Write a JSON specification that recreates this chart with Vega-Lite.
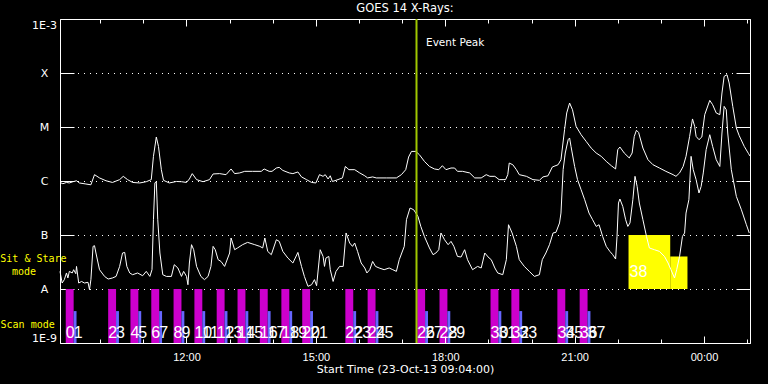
{
"$schema": "https://vega.github.io/schema/vega-lite/v6.json",
"width": 690,
"height": 324,
"autosize": {"type": "none"},
"padding": {"left": 60, "top": 19, "right": 18, "bottom": 41},
"background": "black",
"title": {"text": "GOES 14 X-Rays:", "color": "white", "font": "DejaVu Sans", "fontSize": 11.5, "fontWeight": "normal", "anchor": "middle", "frame": "group", "offset": 4},
"config": {"view": {"stroke": null}, "axis": {"domainColor": "white", "tickColor": "white", "labelColor": "white", "titleColor": "white", "gridColor": "white", "labelFontWeight": "normal", "titleFontWeight": "normal"}},
"datasets": {
"long": [
{"t":"2013-10-23T09:04","f":9.4e-7},{"t":"2013-10-23T09:08","f":8.9e-7},{"t":"2013-10-23T09:13","f":9.4e-7},{"t":"2013-10-23T09:17","f":9.2e-7},{"t":"2013-10-23T09:22","f":9.7e-7},{"t":"2013-10-23T09:27","f":1.01e-6},{"t":"2013-10-23T09:31","f":9.2e-7},{"t":"2013-10-23T09:40","f":8.8e-7},{"t":"2013-10-23T09:47","f":8.5e-7},{"t":"2013-10-23T09:52","f":1.31e-6},{"t":"2013-10-23T09:59","f":1.14e-6},{"t":"2013-10-23T10:08","f":1.01e-6},{"t":"2013-10-23T10:17","f":9.4e-7},{"t":"2013-10-23T10:27","f":1.06e-6},{"t":"2013-10-23T10:32","f":1.22e-6},{"t":"2013-10-23T10:38","f":1.06e-6},{"t":"2013-10-23T10:45","f":9.4e-7},{"t":"2013-10-23T10:55","f":9.2e-7},{"t":"2013-10-23T11:04","f":9.7e-7},{"t":"2013-10-23T11:11","f":1.06e-6},{"t":"2013-10-23T11:14","f":2.86e-6},{"t":"2013-10-23T11:18","f":6.53e-6},{"t":"2013-10-23T11:21","f":4.37e-6},{"t":"2013-10-23T11:25","f":1.62e-6},{"t":"2013-10-23T11:28","f":1.03e-6},{"t":"2013-10-23T11:36","f":9.2e-7},{"t":"2013-10-23T11:46","f":9.8e-7},{"t":"2013-10-23T11:53","f":9.7e-7},{"t":"2013-10-23T12:00","f":9.4e-7},{"t":"2013-10-23T12:04","f":1.09e-6},{"t":"2013-10-23T12:08","f":1.37e-6},{"t":"2013-10-23T12:14","f":1.06e-6},{"t":"2013-10-23T12:23","f":9.7e-7},{"t":"2013-10-23T12:32","f":1.06e-6},{"t":"2013-10-23T12:37","f":1.35e-6},{"t":"2013-10-23T12:46","f":1.37e-6},{"t":"2013-10-23T12:55","f":1.31e-6},{"t":"2013-10-23T13:02","f":1.67e-6},{"t":"2013-10-23T13:07","f":1.37e-6},{"t":"2013-10-23T13:14","f":1.41e-6},{"t":"2013-10-23T13:21","f":1.51e-6},{"t":"2013-10-23T13:32","f":1.51e-6},{"t":"2013-10-23T13:44","f":1.51e-6},{"t":"2013-10-23T13:48","f":1.67e-6},{"t":"2013-10-23T13:55","f":1.51e-6},{"t":"2013-10-23T13:59","f":1.51e-6},{"t":"2013-10-23T14:05","f":1.74e-6},{"t":"2013-10-23T14:09","f":1.79e-6},{"t":"2013-10-23T14:14","f":1.57e-6},{"t":"2013-10-23T14:23","f":1.41e-6},{"t":"2013-10-23T14:28","f":1.37e-6},{"t":"2013-10-23T14:35","f":1.47e-6},{"t":"2013-10-23T14:40","f":1.19e-6},{"t":"2013-10-23T14:47","f":1.06e-6},{"t":"2013-10-23T14:54","f":9.4e-7},{"t":"2013-10-23T15:00","f":9.2e-7},{"t":"2013-10-23T15:05","f":1.31e-6},{"t":"2013-10-23T15:10","f":1.22e-6},{"t":"2013-10-23T15:13","f":1.31e-6},{"t":"2013-10-23T15:17","f":1.09e-6},{"t":"2013-10-23T15:20","f":1.25e-6},{"t":"2013-10-23T15:23","f":9.8e-7},{"t":"2013-10-23T15:28","f":1.03e-6},{"t":"2013-10-23T15:37","f":1.14e-6},{"t":"2013-10-23T15:41","f":1.86e-6},{"t":"2013-10-23T15:46","f":1.62e-6},{"t":"2013-10-23T15:54","f":1.62e-6},{"t":"2013-10-23T16:01","f":1.41e-6},{"t":"2013-10-23T16:08","f":1.25e-6},{"t":"2013-10-23T16:12","f":1.14e-6},{"t":"2013-10-23T16:19","f":1.19e-6},{"t":"2013-10-23T16:24","f":1.14e-6},{"t":"2013-10-23T16:38","f":1.14e-6},{"t":"2013-10-23T16:52","f":1.14e-6},{"t":"2013-10-23T16:59","f":1.31e-6},{"t":"2013-10-23T17:05","f":1.62e-6},{"t":"2013-10-23T17:09","f":2.78e-6},{"t":"2013-10-23T17:13","f":3.53e-6},{"t":"2013-10-23T17:19","f":3.53e-6},{"t":"2013-10-23T17:24","f":3.07e-6},{"t":"2013-10-23T17:31","f":2.31e-6},{"t":"2013-10-23T17:38","f":1.86e-6},{"t":"2013-10-23T17:45","f":1.67e-6},{"t":"2013-10-23T17:51","f":1.62e-6},{"t":"2013-10-23T17:56","f":1.92e-6},{"t":"2013-10-23T18:01","f":1.62e-6},{"t":"2013-10-23T18:08","f":1.74e-6},{"t":"2013-10-23T18:13","f":1.74e-6},{"t":"2013-10-23T18:17","f":1.51e-6},{"t":"2013-10-23T18:24","f":1.51e-6},{"t":"2013-10-23T18:34","f":1.41e-6},{"t":"2013-10-23T18:41","f":1.14e-6},{"t":"2013-10-23T18:50","f":1.14e-6},{"t":"2013-10-23T18:57","f":1.31e-6},{"t":"2013-10-23T19:02","f":1.22e-6},{"t":"2013-10-23T19:09","f":1.22e-6},{"t":"2013-10-23T19:15","f":1.06e-6},{"t":"2013-10-23T19:24","f":1.06e-6},{"t":"2013-10-23T19:27","f":1.31e-6},{"t":"2013-10-23T19:29","f":2.15e-6},{"t":"2013-10-23T19:34","f":2.0e-6},{"t":"2013-10-23T19:39","f":1.62e-6},{"t":"2013-10-23T19:43","f":1.31e-6},{"t":"2013-10-23T19:53","f":1.22e-6},{"t":"2013-10-23T20:02","f":1.06e-6},{"t":"2013-10-23T20:11","f":1.03e-6},{"t":"2013-10-23T20:16","f":1.19e-6},{"t":"2013-10-23T20:23","f":1.25e-6},{"t":"2013-10-23T20:29","f":1.82e-6},{"t":"2013-10-23T20:37","f":2.0e-6},{"t":"2013-10-23T20:41","f":2.48e-6},{"t":"2013-10-23T20:46","f":8.9e-6},{"t":"2013-10-23T20:49","f":1.82e-5},{"t":"2013-10-23T20:53","f":2.78e-5},{"t":"2013-10-23T20:57","f":2.09e-5},{"t":"2013-10-23T21:02","f":1.03e-5},{"t":"2013-10-23T21:09","f":7.2e-6},{"t":"2013-10-23T21:16","f":5.42e-6},{"t":"2013-10-23T21:23","f":4.08e-6},{"t":"2013-10-23T21:30","f":3.3e-6},{"t":"2013-10-23T21:37","f":2.86e-6},{"t":"2013-10-23T21:44","f":2.31e-6},{"t":"2013-10-23T21:51","f":1.92e-6},{"t":"2013-10-23T21:57","f":1.67e-6},{"t":"2013-10-23T22:00","f":3.8e-6},{"t":"2013-10-23T22:03","f":4.26e-6},{"t":"2013-10-23T22:09","f":3.3e-6},{"t":"2013-10-23T22:16","f":2.67e-6},{"t":"2013-10-23T22:20","f":3.3e-6},{"t":"2013-10-23T22:23","f":6.7e-6},{"t":"2013-10-23T22:26","f":8.7e-6},{"t":"2013-10-23T22:29","f":7.93e-6},{"t":"2013-10-23T22:35","f":4.08e-6},{"t":"2013-10-23T22:42","f":2.48e-6},{"t":"2013-10-23T22:49","f":2.0e-6},{"t":"2013-10-23T22:58","f":1.74e-6},{"t":"2013-10-23T23:07","f":1.51e-6},{"t":"2013-10-23T23:17","f":1.31e-6},{"t":"2013-10-23T23:21","f":1.22e-6},{"t":"2013-10-23T23:26","f":1.41e-6},{"t":"2013-10-23T23:31","f":1.86e-6},{"t":"2013-10-23T23:35","f":2.86e-6},{"t":"2013-10-23T23:40","f":6.7e-6},{"t":"2013-10-23T23:44","f":1.41e-5},{"t":"2013-10-23T23:47","f":1.03e-5},{"t":"2013-10-23T23:49","f":6.7e-6},{"t":"2013-10-23T23:53","f":5.82e-6},{"t":"2013-10-23T23:57","f":6.53e-6},{"t":"2013-10-24T00:01","f":1.69e-5},{"t":"2013-10-24T00:08","f":3.11e-5},{"t":"2013-10-24T00:12","f":2.59e-5},{"t":"2013-10-24T00:17","f":1.82e-5},{"t":"2013-10-24T00:22","f":1.69e-5},{"t":"2013-10-24T00:25","f":4.26e-5},{"t":"2013-10-24T00:28","f":8.65e-5},{"t":"2013-10-24T00:32","f":9.3e-5},{"t":"2013-10-24T00:35","f":6.53e-5},{"t":"2013-10-24T00:40","f":2.41e-5},{"t":"2013-10-24T00:45","f":9.58e-6},{"t":"2013-10-24T00:49","f":6.9e-6},{"t":"2013-10-24T00:56","f":4.37e-6},{"t":"2013-10-24T01:02","f":3.2e-6},{"t":"2013-10-24T01:04","f":2.9e-6}
],
"short": [
{"t":"2013-10-23T09:04","f":2.12e-8},{"t":"2013-10-23T09:07","f":1.29e-8},{"t":"2013-10-23T09:10","f":1.49e-8},{"t":"2013-10-23T09:13","f":1.98e-8},{"t":"2013-10-23T09:15","f":1.6e-8},{"t":"2013-10-23T09:17","f":2.12e-8},{"t":"2013-10-23T09:21","f":1.98e-8},{"t":"2013-10-23T09:23","f":2.28e-8},{"t":"2013-10-23T09:26","f":1.92e-8},{"t":"2013-10-23T09:27","f":2.62e-8},{"t":"2013-10-23T09:30","f":1.29e-8},{"t":"2013-10-23T09:34","f":1.38e-8},{"t":"2013-10-23T09:38","f":1.29e-8},{"t":"2013-10-23T09:43","f":1.33e-8},{"t":"2013-10-23T09:45","f":9.7e-9},{"t":"2013-10-23T09:47","f":1.49e-8},{"t":"2013-10-23T09:50","f":6.16e-8},{"t":"2013-10-23T09:52","f":6.34e-8},{"t":"2013-10-23T09:54","f":4.64e-8},{"t":"2013-10-23T09:59","f":2.28e-8},{"t":"2013-10-23T10:06","f":1.71e-8},{"t":"2013-10-23T10:11","f":1.53e-8},{"t":"2013-10-23T10:17","f":1.6e-8},{"t":"2013-10-23T10:22","f":1.71e-8},{"t":"2013-10-23T10:27","f":2.62e-8},{"t":"2013-10-23T10:31","f":4.64e-8},{"t":"2013-10-23T10:34","f":4.76e-8},{"t":"2013-10-23T10:37","f":2.62e-8},{"t":"2013-10-23T10:41","f":1.98e-8},{"t":"2013-10-23T10:45","f":1.84e-8},{"t":"2013-10-23T10:52","f":1.98e-8},{"t":"2013-10-23T10:59","f":1.76e-8},{"t":"2013-10-23T11:04","f":2.12e-8},{"t":"2013-10-23T11:09","f":1.71e-8},{"t":"2013-10-23T11:12","f":2.28e-8},{"t":"2013-10-23T11:14","f":1.92e-7},{"t":"2013-10-23T11:16","f":9.18e-7},{"t":"2013-10-23T11:18","f":9.8e-7},{"t":"2013-10-23T11:20","f":1.92e-7},{"t":"2013-10-23T11:23","f":4.64e-8},{"t":"2013-10-23T11:27","f":1.84e-8},{"t":"2013-10-23T11:32","f":1.71e-8},{"t":"2013-10-23T11:39","f":1.71e-8},{"t":"2013-10-23T11:43","f":2.82e-8},{"t":"2013-10-23T11:48","f":2.45e-8},{"t":"2013-10-23T11:53","f":1.71e-8},{"t":"2013-10-23T11:56","f":2.12e-8},{"t":"2013-10-23T12:00","f":1.71e-8},{"t":"2013-10-23T12:02","f":1.2e-8},{"t":"2013-10-23T12:04","f":3.03e-8},{"t":"2013-10-23T12:07","f":6.62e-8},{"t":"2013-10-23T12:10","f":5.34e-8},{"t":"2013-10-23T12:14","f":2.62e-8},{"t":"2013-10-23T12:20","f":1.71e-8},{"t":"2013-10-23T12:25","f":1.49e-8},{"t":"2013-10-23T12:30","f":1.71e-8},{"t":"2013-10-23T12:34","f":2.62e-8},{"t":"2013-10-23T12:37","f":6.16e-8},{"t":"2013-10-23T12:40","f":5.34e-8},{"t":"2013-10-23T12:44","f":3.49e-8},{"t":"2013-10-23T12:48","f":3.24e-8},{"t":"2013-10-23T12:53","f":2.62e-8},{"t":"2013-10-23T13:00","f":4.64e-8},{"t":"2013-10-23T13:02","f":8.8e-8},{"t":"2013-10-23T13:07","f":5.34e-8},{"t":"2013-10-23T13:11","f":5.75e-8},{"t":"2013-10-23T13:18","f":6.62e-8},{"t":"2013-10-23T13:25","f":7.3e-8},{"t":"2013-10-23T13:35","f":6.62e-8},{"t":"2013-10-23T13:42","f":6.16e-8},{"t":"2013-10-23T13:46","f":5.75e-8},{"t":"2013-10-23T13:49","f":8.8e-8},{"t":"2013-10-23T13:53","f":4.97e-8},{"t":"2013-10-23T13:58","f":4.32e-8},{"t":"2013-10-23T14:05","f":8.17e-8},{"t":"2013-10-23T14:09","f":7.62e-8},{"t":"2013-10-23T14:14","f":4.97e-8},{"t":"2013-10-23T14:21","f":3.75e-8},{"t":"2013-10-23T14:28","f":3.03e-8},{"t":"2013-10-23T14:35","f":4.76e-8},{"t":"2013-10-23T14:40","f":2.62e-8},{"t":"2013-10-23T14:44","f":1.71e-8},{"t":"2013-10-23T14:49","f":1.12e-8},{"t":"2013-10-23T14:54","f":1.2e-8},{"t":"2013-10-23T14:58","f":1.49e-8},{"t":"2013-10-23T15:01","f":1.15e-8},{"t":"2013-10-23T15:06","f":5.34e-8},{"t":"2013-10-23T15:10","f":4.01e-8},{"t":"2013-10-23T15:12","f":2.62e-8},{"t":"2013-10-23T15:14","f":3.75e-8},{"t":"2013-10-23T15:18","f":4.01e-8},{"t":"2013-10-23T15:20","f":2.28e-8},{"t":"2013-10-23T15:24","f":1.38e-8},{"t":"2013-10-23T15:28","f":2.12e-8},{"t":"2013-10-23T15:33","f":2.62e-8},{"t":"2013-10-23T15:38","f":2.62e-8},{"t":"2013-10-23T15:42","f":1.09e-7},{"t":"2013-10-23T15:47","f":7.11e-8},{"t":"2013-10-23T15:51","f":6.16e-8},{"t":"2013-10-23T15:54","f":7.11e-8},{"t":"2013-10-23T15:58","f":4.97e-8},{"t":"2013-10-23T16:03","f":3.03e-8},{"t":"2013-10-23T16:08","f":2.45e-8},{"t":"2013-10-23T16:11","f":1.98e-8},{"t":"2013-10-23T16:15","f":2.28e-8},{"t":"2013-10-23T16:19","f":3.24e-8},{"t":"2013-10-23T16:23","f":2.62e-8},{"t":"2013-10-23T16:28","f":2.45e-8},{"t":"2013-10-23T16:35","f":2.28e-8},{"t":"2013-10-23T16:42","f":2.45e-8},{"t":"2013-10-23T16:47","f":2.28e-8},{"t":"2013-10-23T16:52","f":2.12e-8},{"t":"2013-10-23T16:56","f":3.49e-8},{"t":"2013-10-23T17:03","f":6.16e-8},{"t":"2013-10-23T17:06","f":1.92e-7},{"t":"2013-10-23T17:11","f":3.16e-7},{"t":"2013-10-23T17:16","f":2.94e-7},{"t":"2013-10-23T17:22","f":2.21e-7},{"t":"2013-10-23T17:26","f":1.44e-7},{"t":"2013-10-23T17:31","f":9.4e-8},{"t":"2013-10-23T17:38","f":5.75e-8},{"t":"2013-10-23T17:43","f":4.32e-8},{"t":"2013-10-23T17:47","f":4.64e-8},{"t":"2013-10-23T17:51","f":5.34e-8},{"t":"2013-10-23T17:54","f":1.09e-7},{"t":"2013-10-23T17:59","f":8.17e-8},{"t":"2013-10-23T18:04","f":6.62e-8},{"t":"2013-10-23T18:08","f":7.62e-8},{"t":"2013-10-23T18:12","f":6.16e-8},{"t":"2013-10-23T18:17","f":4.01e-8},{"t":"2013-10-23T18:22","f":3.91e-8},{"t":"2013-10-23T18:27","f":5.34e-8},{"t":"2013-10-23T18:31","f":3.49e-8},{"t":"2013-10-23T18:38","f":2.28e-8},{"t":"2013-10-23T18:45","f":2.62e-8},{"t":"2013-10-23T18:50","f":2.45e-8},{"t":"2013-10-23T18:55","f":4.64e-8},{"t":"2013-10-23T19:01","f":3.75e-8},{"t":"2013-10-23T19:04","f":3.49e-8},{"t":"2013-10-23T19:09","f":2.45e-8},{"t":"2013-10-23T19:13","f":1.98e-8},{"t":"2013-10-23T19:20","f":1.84e-8},{"t":"2013-10-23T19:25","f":3.49e-8},{"t":"2013-10-23T19:28","f":1.55e-7},{"t":"2013-10-23T19:33","f":1.09e-7},{"t":"2013-10-23T19:39","f":6.16e-8},{"t":"2013-10-23T19:43","f":3.49e-8},{"t":"2013-10-23T19:50","f":2.62e-8},{"t":"2013-10-23T19:57","f":2.12e-8},{"t":"2013-10-23T20:04","f":1.71e-8},{"t":"2013-10-23T20:11","f":1.84e-8},{"t":"2013-10-23T20:15","f":3.49e-8},{"t":"2013-10-23T20:20","f":4.64e-8},{"t":"2013-10-23T20:25","f":6.62e-8},{"t":"2013-10-23T20:30","f":1.09e-7},{"t":"2013-10-23T20:34","f":1.12e-7},{"t":"2013-10-23T20:39","f":1.67e-7},{"t":"2013-10-23T20:41","f":2.55e-7},{"t":"2013-10-23T20:44","f":1.62e-6},{"t":"2013-10-23T20:47","f":3.3e-6},{"t":"2013-10-23T20:51","f":5.82e-6},{"t":"2013-10-23T20:53","f":6.26e-6},{"t":"2013-10-23T20:55","f":4.37e-6},{"t":"2013-10-23T21:00","f":1.86e-6},{"t":"2013-10-23T21:04","f":1.06e-6},{"t":"2013-10-23T21:09","f":6.9e-7},{"t":"2013-10-23T21:14","f":4.5e-7},{"t":"2013-10-23T21:20","f":2.55e-7},{"t":"2013-10-23T21:25","f":1.92e-7},{"t":"2013-10-23T21:30","f":1.44e-7},{"t":"2013-10-23T21:34","f":1.55e-7},{"t":"2013-10-23T21:39","f":9.4e-8},{"t":"2013-10-23T21:44","f":6.16e-8},{"t":"2013-10-23T21:49","f":4.97e-8},{"t":"2013-10-23T21:53","f":4.32e-8},{"t":"2013-10-23T21:57","f":3.59e-8},{"t":"2013-10-23T21:59","f":9.4e-8},{"t":"2013-10-23T22:01","f":3.91e-7},{"t":"2013-10-23T22:03","f":4.64e-7},{"t":"2013-10-23T22:07","f":3.38e-7},{"t":"2013-10-23T22:11","f":1.92e-7},{"t":"2013-10-23T22:14","f":1.44e-7},{"t":"2013-10-23T22:17","f":1.67e-7},{"t":"2013-10-23T22:21","f":4.5e-7},{"t":"2013-10-23T22:24","f":1.22e-6},{"t":"2013-10-23T22:27","f":7.93e-7},{"t":"2013-10-23T22:30","f":3.91e-7},{"t":"2013-10-23T22:35","f":1.92e-7},{"t":"2013-10-23T22:40","f":9.4e-8},{"t":"2013-10-23T22:44","f":5.75e-8},{"t":"2013-10-23T22:51","f":5.34e-8},{"t":"2013-10-23T22:58","f":4.97e-8},{"t":"2013-10-23T23:05","f":4.01e-8},{"t":"2013-10-23T23:10","f":3.03e-8},{"t":"2013-10-23T23:14","f":2.28e-8},{"t":"2013-10-23T23:19","f":1.6e-8},{"t":"2013-10-23T23:22","f":2.28e-8},{"t":"2013-10-23T23:26","f":4.01e-8},{"t":"2013-10-23T23:30","f":9.4e-8},{"t":"2013-10-23T23:33","f":1.09e-7},{"t":"2013-10-23T23:35","f":2.55e-7},{"t":"2013-10-23T23:39","f":4.5e-7},{"t":"2013-10-23T23:42","f":2.86e-6},{"t":"2013-10-23T23:45","f":1.62e-6},{"t":"2013-10-23T23:49","f":1.06e-6},{"t":"2013-10-23T23:53","f":6.0e-7},{"t":"2013-10-23T23:56","f":7.93e-7},{"t":"2013-10-23T23:59","f":1.41e-6},{"t":"2013-10-24T00:03","f":3.8e-6},{"t":"2013-10-24T00:08","f":7.2e-6},{"t":"2013-10-24T00:12","f":4.37e-6},{"t":"2013-10-24T00:17","f":2.48e-6},{"t":"2013-10-24T00:22","f":1.86e-6},{"t":"2013-10-24T00:25","f":7.74e-6},{"t":"2013-10-24T00:28","f":2.41e-5},{"t":"2013-10-24T00:31","f":2.09e-5},{"t":"2013-10-24T00:33","f":7.74e-6},{"t":"2013-10-24T00:38","f":1.62e-6},{"t":"2013-10-24T00:45","f":5.18e-7},{"t":"2013-10-24T00:52","f":2.94e-7},{"t":"2013-10-24T00:59","f":1.55e-7},{"t":"2013-10-24T01:03","f":1.09e-7}
],
"obs": [
{"obs":"0","kind":"scanA","s":"2013-10-23T09:12","e":"2013-10-23T09:23","top":1e-8,"bot":1e-9},
{"obs":"1","kind":"scanB","s":"2013-10-23T09:23","e":"2013-10-23T09:27","top":3.9e-9,"bot":1e-9},
{"obs":"2","kind":"scanA","s":"2013-10-23T10:11","e":"2013-10-23T10:22","top":1e-8,"bot":1e-9},
{"obs":"3","kind":"scanB","s":"2013-10-23T10:22","e":"2013-10-23T10:26","top":3.9e-9,"bot":1e-9},
{"obs":"4","kind":"scanA","s":"2013-10-23T10:42","e":"2013-10-23T10:53","top":1e-8,"bot":1e-9},
{"obs":"5","kind":"scanB","s":"2013-10-23T10:53","e":"2013-10-23T10:57","top":3.9e-9,"bot":1e-9},
{"obs":"6","kind":"scanA","s":"2013-10-23T11:11","e":"2013-10-23T11:22","top":1e-8,"bot":1e-9},
{"obs":"7","kind":"scanB","s":"2013-10-23T11:22","e":"2013-10-23T11:26","top":3.9e-9,"bot":1e-9},
{"obs":"8","kind":"scanA","s":"2013-10-23T11:42","e":"2013-10-23T11:53","top":1e-8,"bot":1e-9},
{"obs":"9","kind":"scanB","s":"2013-10-23T11:53","e":"2013-10-23T11:57","top":3.9e-9,"bot":1e-9},
{"obs":"10","kind":"scanA","s":"2013-10-23T12:11","e":"2013-10-23T12:22","top":1e-8,"bot":1e-9},
{"obs":"11","kind":"scanB","s":"2013-10-23T12:22","e":"2013-10-23T12:26","top":3.9e-9,"bot":1e-9},
{"obs":"12","kind":"scanA","s":"2013-10-23T12:42","e":"2013-10-23T12:53","top":1e-8,"bot":1e-9},
{"obs":"13","kind":"scanB","s":"2013-10-23T12:53","e":"2013-10-23T12:57","top":3.9e-9,"bot":1e-9},
{"obs":"14","kind":"scanA","s":"2013-10-23T13:11","e":"2013-10-23T13:22","top":1e-8,"bot":1e-9},
{"obs":"15","kind":"scanB","s":"2013-10-23T13:22","e":"2013-10-23T13:26","top":3.9e-9,"bot":1e-9},
{"obs":"16","kind":"scanA","s":"2013-10-23T13:42","e":"2013-10-23T13:53","top":1e-8,"bot":1e-9},
{"obs":"17","kind":"scanB","s":"2013-10-23T13:53","e":"2013-10-23T13:57","top":3.9e-9,"bot":1e-9},
{"obs":"18","kind":"scanA","s":"2013-10-23T14:12","e":"2013-10-23T14:23","top":1e-8,"bot":1e-9},
{"obs":"19","kind":"scanB","s":"2013-10-23T14:23","e":"2013-10-23T14:27","top":3.9e-9,"bot":1e-9},
{"obs":"20","kind":"scanA","s":"2013-10-23T14:41","e":"2013-10-23T14:52","top":1e-8,"bot":1e-9},
{"obs":"21","kind":"scanB","s":"2013-10-23T14:52","e":"2013-10-23T14:56","top":3.9e-9,"bot":1e-9},
{"obs":"22","kind":"scanA","s":"2013-10-23T15:41","e":"2013-10-23T15:52","top":1e-8,"bot":1e-9},
{"obs":"23","kind":"scanB","s":"2013-10-23T15:52","e":"2013-10-23T15:56","top":3.9e-9,"bot":1e-9},
{"obs":"24","kind":"scanA","s":"2013-10-23T16:12","e":"2013-10-23T16:23","top":1e-8,"bot":1e-9},
{"obs":"25","kind":"scanB","s":"2013-10-23T16:23","e":"2013-10-23T16:27","top":3.9e-9,"bot":1e-9},
{"obs":"26","kind":"scanA","s":"2013-10-23T17:21","e":"2013-10-23T17:32","top":1e-8,"bot":1e-9},
{"obs":"27","kind":"scanB","s":"2013-10-23T17:32","e":"2013-10-23T17:36","top":3.9e-9,"bot":1e-9},
{"obs":"28","kind":"scanA","s":"2013-10-23T17:52","e":"2013-10-23T18:03","top":1e-8,"bot":1e-9},
{"obs":"29","kind":"scanB","s":"2013-10-23T18:03","e":"2013-10-23T18:07","top":3.9e-9,"bot":1e-9},
{"obs":"30","kind":"scanA","s":"2013-10-23T19:03","e":"2013-10-23T19:14","top":1e-8,"bot":1e-9},
{"obs":"31","kind":"scanB","s":"2013-10-23T19:14","e":"2013-10-23T19:18","top":3.9e-9,"bot":1e-9},
{"obs":"32","kind":"scanA","s":"2013-10-23T19:32","e":"2013-10-23T19:43","top":1e-8,"bot":1e-9},
{"obs":"33","kind":"scanB","s":"2013-10-23T19:43","e":"2013-10-23T19:47","top":3.9e-9,"bot":1e-9},
{"obs":"34","kind":"scanA","s":"2013-10-23T20:36","e":"2013-10-23T20:47","top":1e-8,"bot":1e-9},
{"obs":"35","kind":"scanB","s":"2013-10-23T20:47","e":"2013-10-23T20:51","top":3.9e-9,"bot":1e-9},
{"obs":"36","kind":"scanA","s":"2013-10-23T21:07","e":"2013-10-23T21:18","top":1e-8,"bot":1e-9},
{"obs":"37","kind":"scanB","s":"2013-10-23T21:18","e":"2013-10-23T21:22","top":3.9e-9,"bot":1e-9},
{"obs":"38","kind":"sit","s":"2013-10-23T22:15","e":"2013-10-23T23:13","top":1e-7,"bot":1e-8},
{"obs":"","kind":"sit","s":"2013-10-23T23:13","e":"2013-10-23T23:37","top":4e-8,"bot":1e-8}
],
"event": [{"t":"2013-10-23T17:20","label":"Event Peak","f":3.11e-4}],
"notes": [
{"txt":"Sit & Stare","t":"2013-10-23T08:27","f":3.11e-8},
{"txt":"mode","t":"2013-10-23T08:14","f":1.84e-8},
{"txt":"Scan mode","t":"2013-10-23T08:19","f":1.9e-9}
]
},
"layer": [
{
"data": {"name": "obs"},
"mark": {"type": "rect"},
"encoding": {
"x": {"field": "s", "type": "temporal", "scale": {"domain": [{"year":2013,"month":10,"date":23,"hours":9,"minutes":4},{"year":2013,"month":10,"date":24,"hours":1,"minutes":4}], "nice": false},
"axis": {"orient": "bottom", "values": [{"year":2013,"month":10,"date":23,"hours":12},{"year":2013,"month":10,"date":23,"hours":15},{"year":2013,"month":10,"date":23,"hours":18},{"year":2013,"month":10,"date":23,"hours":21},{"year":2013,"month":10,"date":24,"hours":0}], "format": "%H:%M", "tickSize": -7, "labelPadding": 15, "labelFont": "Liberation Sans", "labelFontSize": 11, "labelFlush": false, "labelOverlap": false, "grid": false, "zindex": 1, "title": "Start Time (23-Oct-13 09:04:00)", "titleFont": "DejaVu Sans", "titleFontSize": 11, "titlePadding": 1}},
"x2": {"field": "e"},
"y": {"field": "top", "type": "quantitative", "scale": {"type": "log", "domain": [1e-9, 1e-3], "nice": false},
"axis": {"orient": "left", "values": [1e-9,1e-8,1e-7,1e-6,1e-5,1e-4,1e-3], "labelExpr": "datum.value > 5e-4 ? '1E-3' : datum.value > 5e-5 ? 'X' : datum.value > 5e-6 ? 'M' : datum.value > 5e-7 ? 'C' : datum.value > 5e-8 ? 'B' : datum.value > 5e-9 ? 'A' : '1E-9'", "tickSize": -14, "labelAlign": "center", "labelPadding": 30, "labelFlush": true, "labelOverlap": false, "labelFont": "DejaVu Sans", "labelFontSize": 11, "grid": true, "gridDash": [1,5], "gridDashOffset": 0.5, "gridColor": "white", "gridOpacity": 1, "title": null}},
"y2": {"field": "bot"},
"color": {"field": "kind", "type": "nominal", "scale": {"domain": ["scanA","scanB","sit"], "range": ["#cc00cc","#6666ff","#ffff00"]}, "legend": null}
}
},
{
"data": {"name": "long"},
"mark": {"type": "line", "color": "white", "strokeWidth": 1},
"encoding": {
"x": {"field": "t", "type": "temporal", "scale": {"domain": [{"year":2013,"month":10,"date":23,"hours":9,"minutes":4},{"year":2013,"month":10,"date":24,"hours":1,"minutes":4}], "nice": false},
"axis": {"orient": "bottom", "values": [{"year":2013,"month":10,"date":23,"hours":10},{"year":2013,"month":10,"date":23,"hours":11},{"year":2013,"month":10,"date":23,"hours":12},{"year":2013,"month":10,"date":23,"hours":13},{"year":2013,"month":10,"date":23,"hours":14},{"year":2013,"month":10,"date":23,"hours":15},{"year":2013,"month":10,"date":23,"hours":16},{"year":2013,"month":10,"date":23,"hours":17},{"year":2013,"month":10,"date":23,"hours":18},{"year":2013,"month":10,"date":23,"hours":19},{"year":2013,"month":10,"date":23,"hours":20},{"year":2013,"month":10,"date":23,"hours":21},{"year":2013,"month":10,"date":23,"hours":22},{"year":2013,"month":10,"date":23,"hours":23},{"year":2013,"month":10,"date":24,"hours":0},{"year":2013,"month":10,"date":24,"hours":1}], "tickSize": -4, "labels": false, "domain": false, "grid": false, "title": null, "zindex": 1}},
"y": {"field": "f", "type": "quantitative", "scale": {"type": "log", "domain": [1e-9, 1e-3], "nice": false},
"axis": {"orient": "right", "values": [1e-9,1e-8,1e-7,1e-6,1e-5,1e-4,1e-3], "tickSize": -14, "labels": false, "grid": false, "title": null}}
}
},
{
"data": {"name": "short"},
"mark": {"type": "line", "color": "white", "strokeWidth": 1},
"encoding": {
"x": {"field": "t", "type": "temporal", "scale": {"domain": [{"year":2013,"month":10,"date":23,"hours":9,"minutes":4},{"year":2013,"month":10,"date":24,"hours":1,"minutes":4}], "nice": false},
"axis": {"orient": "top", "values": [{"year":2013,"month":10,"date":23,"hours":12},{"year":2013,"month":10,"date":23,"hours":15},{"year":2013,"month":10,"date":23,"hours":18},{"year":2013,"month":10,"date":23,"hours":21},{"year":2013,"month":10,"date":24,"hours":0}], "tickSize": -7, "labels": false, "grid": false, "title": null}},
"y": {"field": "f", "type": "quantitative", "scale": {"type": "log", "domain": [1e-9, 1e-3], "nice": false}, "axis": null}
}
},
{
"data": {"name": "event"},
"mark": {"type": "rule", "color": "#a0c800", "strokeWidth": 2},
"encoding": {
"x": {"field": "t", "type": "temporal", "scale": {"domain": [{"year":2013,"month":10,"date":23,"hours":9,"minutes":4},{"year":2013,"month":10,"date":24,"hours":1,"minutes":4}], "nice": false},
"axis": {"orient": "top", "values": [{"year":2013,"month":10,"date":23,"hours":10},{"year":2013,"month":10,"date":23,"hours":11},{"year":2013,"month":10,"date":23,"hours":12},{"year":2013,"month":10,"date":23,"hours":13},{"year":2013,"month":10,"date":23,"hours":14},{"year":2013,"month":10,"date":23,"hours":15},{"year":2013,"month":10,"date":23,"hours":16},{"year":2013,"month":10,"date":23,"hours":17},{"year":2013,"month":10,"date":23,"hours":18},{"year":2013,"month":10,"date":23,"hours":19},{"year":2013,"month":10,"date":23,"hours":20},{"year":2013,"month":10,"date":23,"hours":21},{"year":2013,"month":10,"date":23,"hours":22},{"year":2013,"month":10,"date":23,"hours":23},{"year":2013,"month":10,"date":24,"hours":0},{"year":2013,"month":10,"date":24,"hours":1}], "tickSize": -4, "labels": false, "domain": false, "grid": false, "title": null}}
}
},
{
"data": {"name": "event"},
"mark": {"type": "text", "color": "white", "font": "DejaVu Sans", "fontSize": 10.5, "align": "left", "baseline": "alphabetic", "dx": 9.5},
"encoding": {
"x": {"field": "t", "type": "temporal", "scale": {"domain": [{"year":2013,"month":10,"date":23,"hours":9,"minutes":4},{"year":2013,"month":10,"date":24,"hours":1,"minutes":4}], "nice": false}, "axis": null},
"y": {"field": "f", "type": "quantitative", "scale": {"type": "log", "domain": [1e-9, 1e-3], "nice": false}, "axis": null},
"text": {"field": "label"}
}
},
{
"data": {"name": "obs"},
"transform": [{"filter": "datum.kind != 'sit'"}],
"mark": {"type": "text", "color": "white", "font": "Liberation Sans", "fontSize": 16, "align": "left", "baseline": "alphabetic", "dy": -5},
"encoding": {
"x": {"field": "s", "type": "temporal", "scale": {"domain": [{"year":2013,"month":10,"date":23,"hours":9,"minutes":4},{"year":2013,"month":10,"date":24,"hours":1,"minutes":4}], "nice": false}, "axis": null},
"y": {"field": "bot", "type": "quantitative", "scale": {"type": "log", "domain": [1e-9, 1e-3], "nice": false}, "axis": null},
"text": {"field": "obs"}
}
},
{
"data": {"name": "obs"},
"transform": [{"filter": "datum.obs == '38'"}],
"mark": {"type": "text", "color": "white", "font": "Liberation Sans", "fontSize": 16, "align": "left", "baseline": "alphabetic", "dy": -11.6, "dx": 1},
"encoding": {
"x": {"field": "s", "type": "temporal", "scale": {"domain": [{"year":2013,"month":10,"date":23,"hours":9,"minutes":4},{"year":2013,"month":10,"date":24,"hours":1,"minutes":4}], "nice": false}, "axis": null},
"y": {"field": "bot", "type": "quantitative", "scale": {"type": "log", "domain": [1e-9, 1e-3], "nice": false}, "axis": null},
"text": {"field": "obs"}
}
},
{
"data": {"name": "notes"},
"mark": {"type": "text", "color": "#ffff00", "font": "DejaVu Sans Mono", "fontSize": 10, "align": "center", "baseline": "alphabetic"},
"encoding": {
"x": {"field": "t", "type": "temporal", "scale": {"domain": [{"year":2013,"month":10,"date":23,"hours":9,"minutes":4},{"year":2013,"month":10,"date":24,"hours":1,"minutes":4}], "nice": false}, "axis": null},
"y": {"field": "f", "type": "quantitative", "scale": {"type": "log", "domain": [1e-9, 1e-3], "nice": false}, "axis": null},
"text": {"field": "txt"}
}
}
],
"resolve": {"axis": {"x": "independent", "y": "independent"}}
}
